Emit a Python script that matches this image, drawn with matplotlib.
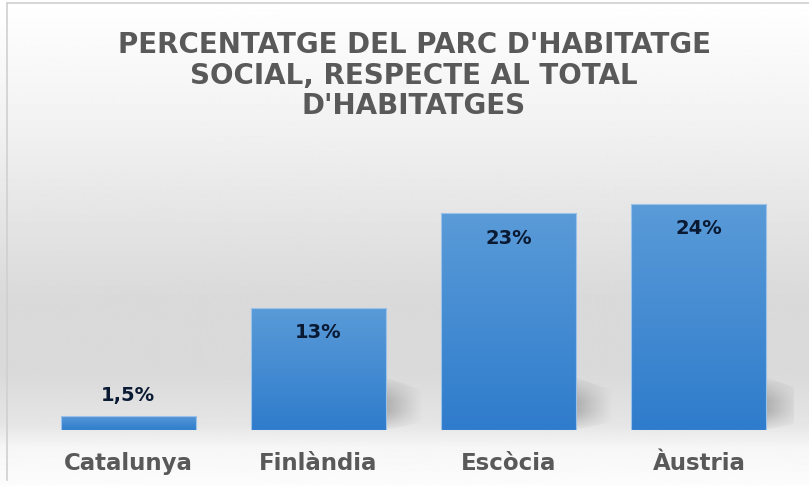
import numpy as np
import matplotlib
matplotlib.use("Agg")
import matplotlib.pyplot as plt
from matplotlib.colors import LinearSegmentedColormap
from matplotlib.patches import Polygon, Rectangle

categories = ["Catalunya", "Finlàndia", "Escòcia", "Àustria"]
values = [1.5, 13, 23, 24]
value_labels = ["1,5%", "13%", "23%", "24%"]
title = "PERCENTATGE DEL PARC D'HABITATGE\nSOCIAL, RESPECTE AL TOTAL\nD'HABITATGES"

W, H = 809, 486
fig = plt.figure(figsize=(W / 100, H / 100), dpi=100)

# background gradient
bg = fig.add_axes([0, 0, 1, 1], zorder=-5)
bg.set_axis_off()
stops = [(0, 1.0), (120, 0.95), (300, 0.852), (375, 0.855), (425, 0.90), (447, 0.965), (486, 0.99)]
ys = np.arange(H)
vals = np.interp(ys, [s[0] for s in stops], [s[1] for s in stops])
img = np.repeat(vals[:, None], 2, axis=1)
bg.imshow(img, cmap="gray", vmin=0, vmax=1, aspect="auto", extent=[0, 1, 0, 1], origin="upper")
bg.set_xlim(0, 1); bg.set_ylim(0, 1)
# border lines (top and left)
bg.plot([6.5 / W, 1], [1 - 3.5 / H, 1 - 3.5 / H], color="#d0d0d0", lw=1.2)
bg.plot([6.5 / W, 6.5 / W], [1 - 3.5 / H, 1 - 480 / H], color="#d0d0d0", lw=1.2)

left_px, right_px, base_px = 33, 794, 430
ymax = 25
ppu = 9.42
ax = fig.add_axes([left_px / W, (H - base_px) / H, (right_px - left_px) / W, ymax * ppu / H])
ax.set_xlim(-0.5, 3.5)
ax.set_ylim(0, ymax)
ax.set_axis_off()
ax.patch.set_alpha(0)

width = 0.71
blue = LinearSegmentedColormap.from_list("b", ["#2f7ccc", "#5a9bd8"])
x = np.arange(len(categories))
for xi, v in zip(x, values):
    xr = xi + width / 2
    if v > 5:
        # soft shadow to the right of the bar
        d = 0.19
        h = 5.6
        sh = np.zeros((80, 80, 4))
        u = np.linspace(0, 1, 80)[None, :]
        vv = np.linspace(0, 1, 80)[:, None]
        sh[..., :3] = 0.45
        sh[..., 3] = 0.45 * (1 - u) ** 1.1 * np.clip(np.minimum(vv / 0.35, (1 - vv) / 0.45), 0, 1) ** 0.8
        im = ax.imshow(sh, extent=[xr, xr + d, 0, h], origin="lower", aspect="auto", zorder=1,
                       interpolation="bilinear")
        poly = Polygon([(xr, 0.0), (xr, h), (xr + d, 0.75 * h), (xr + d, 0.15 * h)], closed=True,
                       transform=ax.transData, facecolor="none", edgecolor="none")
        ax.add_patch(poly)
        im.set_clip_path(poly)
    # bar with gradient
    grad = np.linspace(0, 1, 256)[:, None]
    bim = ax.imshow(grad, cmap=blue, extent=[xi - width / 2, xi + width / 2, 0, v], origin="lower",
                    aspect="auto", zorder=2, vmin=0, vmax=1)
    rect = Rectangle((xi - width / 2, 0), width, v, transform=ax.transData,
                     facecolor="none", edgecolor="#9cc2ea", lw=0.8, zorder=3)
    ax.add_patch(rect)
    bim.set_clip_path(rect)

ax.set_xlim(-0.5, 3.5)
ax.set_ylim(0, ymax)

for xi, v, lab in zip(x, values, value_labels):
    if v < 5:
        ax.annotate(lab, (xi, v), xytext=(0, 8), textcoords="offset points", ha="center", va="bottom",
                    fontsize=14, fontweight="bold", color="#0b1a33", family="DejaVu Sans", zorder=5)
    else:
        ax.annotate(lab, (xi, v), xytext=(0, -11), textcoords="offset points", ha="center", va="top",
                    fontsize=14, fontweight="bold", color="#0b1a33", family="DejaVu Sans", zorder=5)

for xi, c in zip(x, categories):
    ax.annotate(c, (xi, 0), xytext=(0, -16), textcoords="offset points", ha="center", va="top",
                fontsize=16.5, fontweight="bold", color="#595959", family="DejaVu Sans")

fig.text(414 / W, 1 - 31 / H, title, ha="center", va="top", fontsize=20, fontweight="bold",
         color="#595959", family="DejaVu Sans", linespacing=1.12)

fig.savefig("out.png", dpi=100)
